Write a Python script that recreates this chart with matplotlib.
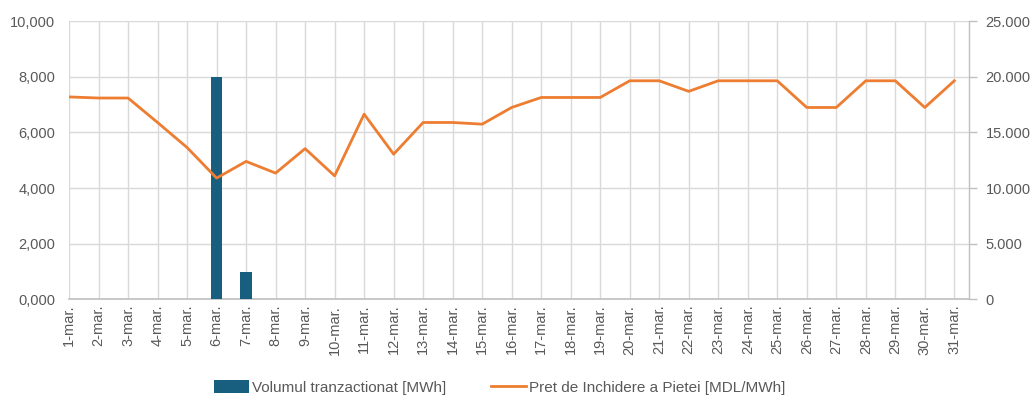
import matplotlib
matplotlib.use("Agg")
from matplotlib import pyplot as plt
from matplotlib.ticker import FixedLocator

plt.rcParams['font.family'] = ['Liberation Sans', 'DejaVu Sans']

days = [f"{d}-mar." for d in range(1, 32)]

# Volume traded [MWh] (only two days with trades)
volume = [0, 0, 0, 0, 0, 8000, 1000, 0, 0, 0,
          0, 0, 0, 0, 0, 0, 0, 0, 0, 0,
          0, 0, 0, 0, 0, 0, 0, 0, 0, 0, 0]

# Market closing price [MDL/MWh]
price = [18200, 18100, 18100, 15900, 13650, 10900, 12400, 11350, 13550, 11100,
         16650, 13050, 15900, 15900, 15750, 17250, 18150, 18150, 18150, 19650,
         19650, 18700, 19650, 19650, 19650, 17250, 17250, 19650, 19650, 17250,
         19650]

left_ticks = [0, 2000, 4000, 6000, 8000, 10000]
left_labels = ["0,000", "2,000", "4,000", "6,000", "8,000", "10,000"]
right_ticks = [0, 5000, 10000, 15000, 20000, 25000]
right_labels = ["0", "5.000", "10.000", "15.000", "20.000", "25.000"]

bar_color = "#175E7F"
line_color = "#ED7D31"
grid_color = "#D9D9D9"
text_color = "#595959"

fig = plt.figure(figsize=(10.35, 4.01), dpi=100)
ax = fig.add_axes([0.0667, 0.2536, 0.8696, 0.6933])
ax2 = ax.twinx()

x = list(range(len(days)))
bars = ax.bar(x, volume, width=0.39, color=bar_color, zorder=3,
              label="Volumul tranzactionat [MWh]")
line, = ax2.plot(x, price, color=line_color, lw=2.0, zorder=4,
                 label="Pret de Inchidere a Pietei [MDL/MWh]")

ax.set_xlim(0, 30.5)
ax.set_ylim(0, 10000)
ax2.set_ylim(0, 25000)

ax.set_xticks(x)
ax.set_xticklabels(days, rotation=90, fontsize=10.5, color=text_color)
ax.tick_params(axis='x', length=0, pad=4)

ax.yaxis.set_major_locator(FixedLocator(left_ticks))
ax.set_yticklabels(left_labels, fontsize=10.5, color=text_color)
ax.tick_params(axis='y', length=0, pad=10)

ax2.yaxis.set_major_locator(FixedLocator(right_ticks))
ax2.set_yticklabels(right_labels, fontsize=10.5, color=text_color)
ax2.tick_params(axis='y', length=6, width=1, color="#BFBFBF", pad=6)

ax.grid(True, color=grid_color, lw=1, zorder=0)
ax.set_axisbelow(True)

for a in (ax, ax2):
    a.spines['top'].set_visible(False)
    a.spines['left'].set_visible(False)
ax.spines['right'].set_visible(False)
ax2.spines['bottom'].set_visible(False)
ax.spines['bottom'].set_color("#BFBFBF")
ax.spines['bottom'].set_linewidth(1.2)
ax2.spines['right'].set_color("#BFBFBF")
ax2.spines['right'].set_linewidth(1.0)

ax2.set_zorder(ax.get_zorder() + 1)
ax2.patch.set_visible(False)

leg = fig.legend([bars, line], [bars.get_label(), line.get_label()],
                 loc='center', bbox_to_anchor=(0.483, 0.033), ncol=2,
                 frameon=False, fontsize=11, handlelength=2.3,
                 handleheight=0.9, columnspacing=2.9, handletextpad=0.2)
for t in leg.get_texts():
    t.set_color(text_color)

fig.savefig("out.png", dpi=100)
